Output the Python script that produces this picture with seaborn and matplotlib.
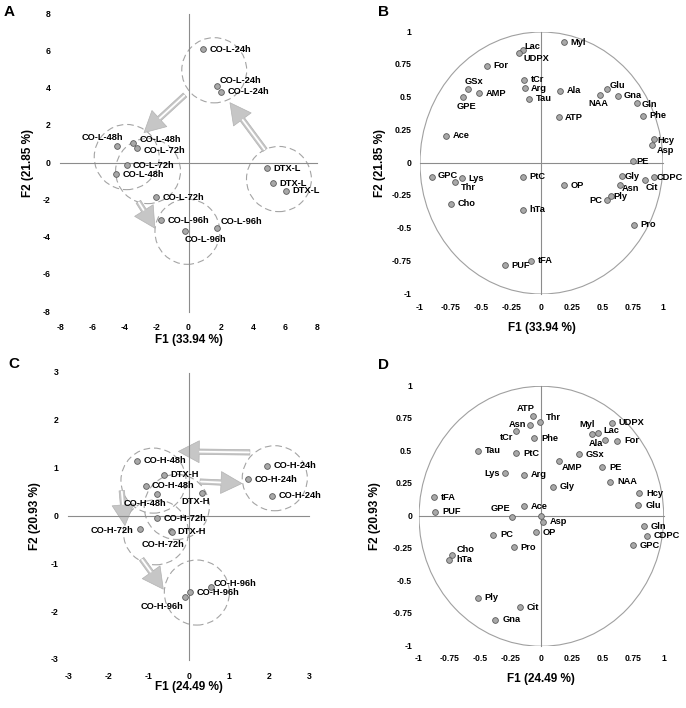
import matplotlib
matplotlib.use('Agg')
import matplotlib.pyplot as plt
from matplotlib.patches import Ellipse, Circle
import seaborn as sns

# ------------------------------------------------------------
# data
# ------------------------------------------------------------
# Panel A - scores, low dose
A_labels = ['CO-L-24h', 'CO-L-24h', 'CO-L-24h', 'CO-L-48h', 'CO-L-48h', 'CO-L-72h',
            'CO-L-72h', 'CO-L-48h', 'CO-L-72h', 'CO-L-96h', 'CO-L-96h', 'CO-L-96h',
            'DTX-L', 'DTX-L', 'DTX-L']
A_f1 = [0.92, 1.75, 2.02, -4.43, -3.44, -3.19, -3.85, -4.51, -2.0, -1.71, 1.75, -0.22, 4.91, 5.24, 6.05]
A_f2 = [6.1, 4.15, 3.83, 0.93, 1.06, 0.82, -0.11, -0.61, -1.83, -3.08, -3.5, -3.67, -0.29, -1.09, -1.49]
A_group_x = [1.6, -3.85, -2.52, -0.07, 5.63]
A_group_y = [4.98, 0.32, -0.43, -3.69, -0.86]
A_group_rx = 2.02
A_group_ry = 1.75
A_arrow_from = [(-0.22, 3.65), (4.76, 0.70), (-3.12, -2.08)]
A_arrow_to = [(-2.77, 1.63), (2.58, 3.24), (-2.09, -3.5)]
A_ticks = [-8, -6, -4, -2, 0, 2, 4, 6, 8]

# Panel B - loadings, low dose
B_labels = ['Myl', 'Lac', 'UDPX', 'For', 'GSx', 'AMP', 'GPE', 'tCr', 'Arg', 'Tau', 'Ala', 'ATP',
            'Glu', 'NAA', 'Gna', 'Gln', 'Phe', 'Hcy', 'Asp', 'Ace', 'PE', 'GPC', 'Lys', 'Thr',
            'Cho', 'PtC', 'hTa', 'OP', 'Gly', 'Asn', 'Cit', 'CDPC', 'PC', 'Ply', 'Pro', 'PUF', 'tFA']
B_f1 = [0.189, -0.156, -0.181, -0.449, -0.605, -0.512, -0.649, -0.142, -0.137, -0.101, 0.156, 0.142,
        0.537, 0.482, 0.633, 0.784, 0.836, 0.923, 0.907, -0.784, 0.753, -0.901, -0.652, -0.715,
        -0.742, -0.153, -0.153, 0.189, 0.66, 0.647, 0.849, 0.926, 0.537, 0.570, 0.759, -0.299, -0.085]
B_f2 = [0.921, 0.86, 0.84, 0.743, 0.565, 0.532, 0.504, 0.636, 0.570, 0.489, 0.55, 0.349,
        0.565, 0.522, 0.514, 0.461, 0.361, 0.183, 0.135, 0.209, 0.013, -0.104, -0.115, -0.148,
        -0.31, -0.104, -0.356, -0.17, -0.102, -0.165, -0.127, -0.109, -0.285, -0.254, -0.473, -0.781, -0.746]

# Panel C - scores, high dose
C_labels = ['CO-H-48h', 'DTX-H', 'CO-H-48h', 'CO-H-48h', 'DTX-H', 'CO-H-72h', 'CO-H-72h',
            'DTX-H', 'CO-H-72h', 'CO-H-24h', 'CO-H-24h', 'CO-H-24h', 'CO-H-96h', 'CO-H-96h', 'CO-H-96h']
C_f1 = [-1.28, -0.62, -1.075, -0.78, 0.32, -0.785, -1.22, -0.444, -0.43, 1.94, 1.48, 2.08, 0.55, 0.03, -0.095]
C_f2 = [1.17, 0.875, 0.645, 0.47, 0.484, -0.04, -0.254, -0.31, -0.33, 1.06, 0.78, 0.436, -1.48, -1.585, -1.69]
C_group_x = [-0.88, -0.30, -0.82, 2.14, 0.2]
C_group_y = [0.75, 0.2, -0.33, 0.80, -1.59]
C_group_rx = 0.81
C_group_ry = 0.68
C_arrow_from = [(1.52, 1.34), (0.28, 0.73), (-1.67, 0.54), (-1.175, -0.89)]
C_arrow_to = [(-0.26, 1.36), (1.32, 0.69), (-1.59, -0.19), (-0.635, -1.52)]
C_ticks = [-3, -2, -1, 0, 1, 2, 3]

# Panel D - loadings, high dose
D_labels = ['ATP', 'Thr', 'Asn', 'tCr', 'Phe', 'Tau', 'PtC', 'Lys', 'Arg', 'AMP', 'GSx', 'Myl',
            'Lac', 'Ala', 'UDPX', 'For', 'PE', 'NAA', 'Gly', 'Hcy', 'Glu', 'tFA', 'PUF', 'GPE',
            'Ace', '', 'Asp', 'OP', 'PC', 'Pro', 'Gln', 'CDPC', 'GPC', 'Cho', 'hTa', 'Ply', 'Cit', 'Gna']
D_f1 = [-0.071, -0.011, -0.093, -0.207, -0.06, -0.52, -0.204, -0.30, -0.142, 0.147, 0.308, 0.414,
        0.463, 0.52, 0.575, 0.619, 0.496, 0.561, 0.093, 0.798, 0.793, -0.88, -0.869, -0.243,
        -0.142, -0.005, 0.016, -0.044, -0.392, -0.226, 0.839, 0.864, 0.749, -0.73, -0.752, -0.52, -0.177, -0.376]
D_f2 = [0.772, 0.728, 0.705, 0.659, 0.60, 0.505, 0.485, 0.331, 0.321, 0.428, 0.479, 0.633,
        0.641, 0.587, 0.721, 0.582, 0.377, 0.264, 0.228, 0.177, 0.085, 0.146, 0.036, -0.003,
        0.077, 0.005, -0.041, -0.123, -0.144, -0.238, -0.077, -0.149, -0.221, -0.295, -0.336, -0.628, -0.70, -0.795]

load_ticks = [-1, -0.75, -0.5, -0.25, 0, 0.25, 0.5, 0.75, 1]
load_ticklabels = ['-1', '-0.75', '-0.5', '-0.25', '0', '0.25', '0.5', '0.75', '1']

# label placement (offset in points, alignment) where it is not simply to the right
A_place = {1: (2.4, 4, 'left'), 2: (5, 0, 'left'), 3: (4, 6, 'right'), 4: (4.3, 2.5, 'left'),
           5: (4.6, -2.2, 'left'), 10: (3, 4.7, 'left'), 11: (0, -6.2, 'left')}
B_place = {1: (1.7, 3, 'left'), 2: (3, -4, 'left'), 4: (4.3, 5.5, 'center'), 6: (3, -6.8, 'center'),
           12: (2, 2.4, 'left'), 13: (6, -6.7, 'right'), 14: (3.8, 0, 'left'), 15: (3.6, -1, 'left'),
           17: (2.6, -1.2, 'left'), 18: (3.8, -3.6, 'left'), 20: (2.4, 0, 'left'), 21: (3.8, 1, 'left'),
           23: (4.3, -4, 'left'), 28: (2.2, 0, 'left'), 29: (1.4, -2.6, 'left'), 30: (0.5, -6, 'left'),
           31: (2.2, 0, 'left'), 32: (-3.4, 0, 'right'), 33: (1.7, 0, 'left')}
C_place = {3: (6.5, -6.5, 'right'), 4: (-4, -6, 'center'), 6: (-4.8, -1, 'right'),
           8: (-5.8, -8.6, 'center'), 12: (1.7, 3, 'left'), 14: (-1.2, -6.5, 'right')}
D_place = {0: (-5, 5.5, 'center'), 1: (4.5, 3.2, 'left'), 2: (-3, 0, 'right'), 3: (-2, -5.3, 'right'),
           7: (-3.3, 0, 'right'), 9: (1.7, -4.8, 'left'), 11: (2, 6.5, 'right'), 12: (3.6, 1.7, 'left'),
           13: (-1.4, -2.4, 'right'), 23: (-1, 6.2, 'right'), 33: (3, 4, 'left')}

# ------------------------------------------------------------
# style
# ------------------------------------------------------------
sns.set_style('white')
plt.rcParams['font.family'] = ['Liberation Sans', 'DejaVu Sans']
plt.rcParams['font.weight'] = 'bold'
plt.rcParams['text.color'] = 'black'

AX_COL = '#8c8c8c'
PT_FACE = '#a8a8a8'
PT_EDGE = '#5a5a5a'


def setup_axes(ax, lim, ticks, ticklabels, xpad, ypad):
    ax.set_xlim(-lim, lim)
    ax.set_ylim(-lim, lim)
    ax.set_facecolor('white')
    for s in ['top', 'right']:
        ax.spines[s].set_visible(False)
    for s in ['left', 'bottom']:
        ax.spines[s].set_position('zero')
        ax.spines[s].set_color(AX_COL)
        ax.spines[s].set_linewidth(0.8)
    ax.set_xticks(ticks)
    ax.set_yticks(ticks)
    ax.tick_params(direction='out', length=2.5, width=0.7, color=AX_COL,
                   labelbottom=False, labelleft=False)
    # Excel-style "low" tick labels: at the outer edges, not on the zero lines
    for t, lab in zip(ticks, ticklabels):
        ax.annotate(lab, xy=(t, 0), xycoords=('data', 'axes fraction'), xytext=(0, -xpad),
                    textcoords='offset points', ha='center', va='center',
                    fontsize=6.2, fontweight='bold', color='black', annotation_clip=False)
        ax.annotate(lab, xy=(0, t), xycoords=('axes fraction', 'data'), xytext=(-ypad, 0),
                    textcoords='offset points', ha='right', va='center',
                    fontsize=6.2, fontweight='bold', color='black', annotation_clip=False)


def draw_points(ax, xs, ys, labels, place, default_dx=4.6):
    sns.scatterplot(x=xs, y=ys, ax=ax, s=17, color=PT_FACE, edgecolor=PT_EDGE,
                    linewidth=0.6, zorder=4, legend=False, clip_on=False)
    for i, (lab, x, y) in enumerate(zip(labels, xs, ys)):
        dx, dy, ha = place.get(i, (default_dx, 0, 'left'))
        ax.annotate(lab, (x, y), xytext=(dx, dy), textcoords='offset points',
                    ha=ha, va='center', fontsize=6.7, fontweight='bold', color='black',
                    zorder=5, annotation_clip=False)


def hollow_arrow(ax, start, end):
    ax.annotate('', xy=end, xytext=start, zorder=2,
                arrowprops=dict(arrowstyle='simple,head_length=1.0,head_width=1.05,tail_width=0.26',
                                mutation_scale=15, fc='#c6c6c6', ec='#b2b2b2', lw=0.5,
                                shrinkA=0, shrinkB=0))
    ax.annotate('', xy=end, xytext=start, zorder=2.1,
                arrowprops=dict(arrowstyle='-', color='white', lw=1.3,
                                shrinkA=0.6, shrinkB=15.5))


def group_circles(ax, cx, cy, rx, ry):
    for x, y in zip(cx, cy):
        ax.add_patch(Ellipse((x, y), 2 * rx, 2 * ry, fill=False, ec='#a4a4a4',
                             lw=0.8, ls=(0, (6, 3.5)), zorder=1.5))


def set_labels(ax, xl, yl, w, h, xdown, yleft):
    ax.text(0.5, -xdown / h, xl, transform=ax.transAxes, ha='center', va='center',
            fontsize=8.5, fontweight='bold', color='black')
    ax.text(-yleft / w, 0.5, yl, transform=ax.transAxes, ha='center', va='center',
            rotation=90, fontsize=8.5, fontweight='bold', color='black')


fig = plt.figure(figsize=(6.86, 7.08), dpi=100)
fig.patch.set_facecolor('white')

# ---- A ----
axA = fig.add_axes([0.0875, 0.5593, 0.3746, 0.4209])
setup_axes(axA, 8, A_ticks, [str(t) for t in A_ticks], 11.5, 7)
group_circles(axA, A_group_x, A_group_y, A_group_rx, A_group_ry)
for s, e in zip(A_arrow_from, A_arrow_to):
    hollow_arrow(axA, s, e)
draw_points(axA, A_f1, A_f2, A_labels, A_place)
set_labels(axA, 'F1 (33.94 %)', 'F2 (21.85 %)', 257, 298, 28, 32)

# ---- B ----
axB = fig.add_axes([0.6122, 0.5847, 0.3542, 0.3701])
setup_axes(axB, 1.0, load_ticks, load_ticklabels, 10, 6)
axB.add_patch(Circle((0, 0), 1, fill=False, ec='#a0a0a0', lw=0.8, zorder=1))
draw_points(axB, B_f1, B_f2, B_labels, B_place)
set_labels(axB, 'F1 (33.94 %)', 'F2 (21.85 %)', 243, 262, 34, 40)

# ---- C ----
axC = fig.add_axes([0.0996, 0.0678, 0.3513, 0.4054])
setup_axes(axC, 3, C_ticks, [str(t) for t in C_ticks], 12, 7)
group_circles(axC, C_group_x, C_group_y, C_group_rx, C_group_ry)
for s, e in zip(C_arrow_from, C_arrow_to):
    hollow_arrow(axC, s, e)
draw_points(axC, C_f1, C_f2, C_labels, C_place)
set_labels(axC, 'F1 (24.49 %)', 'F2 (20.93 %)', 241, 287, 27, 33)

# ---- D ----
axD = fig.add_axes([0.6108, 0.0872, 0.3567, 0.3672])
setup_axes(axD, 1.0, load_ticks, load_ticklabels, 9, 5)
axD.add_patch(Circle((0, 0), 1, fill=False, ec='#a0a0a0', lw=0.8, zorder=1))
draw_points(axD, D_f1, D_f2, D_labels, D_place, default_dx=5)
set_labels(axD, 'F1 (24.49 %)', 'F2 (20.93 %)', 245, 260, 33, 44)

# panel letters
for letter, x, y in [('A', 4, 16), ('B', 378, 16), ('C', 8, 368), ('D', 378, 369)]:
    fig.text(x / 686, 1 - y / 708, letter, fontsize=11, fontweight='bold', va='baseline')

fig.savefig('out.png', dpi=100, facecolor='white')
